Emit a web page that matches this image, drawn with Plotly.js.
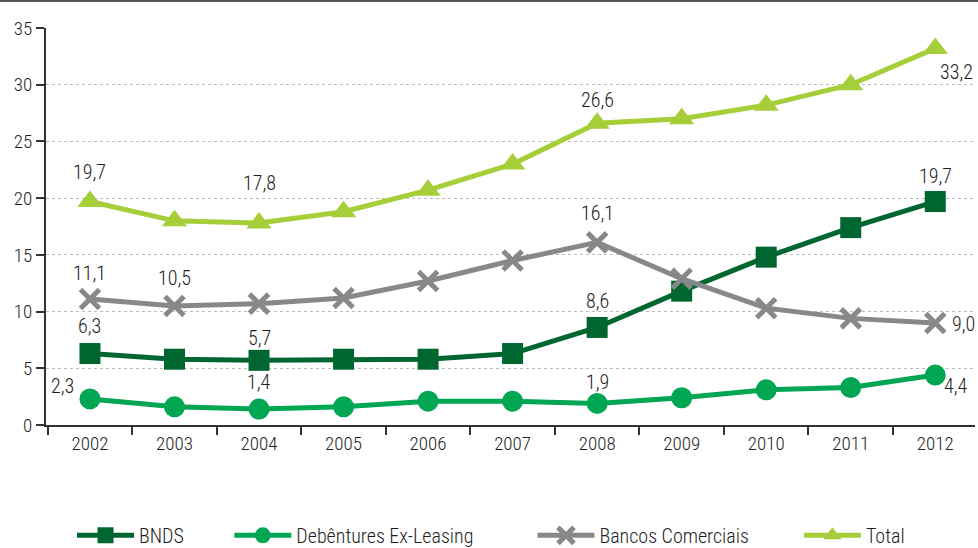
<!DOCTYPE html>
<html>
<head>
<meta charset="utf-8">
<script src="https://cdn.plot.ly/plotly-3.0.1.min.js"></script>
<style>html,body{margin:0;padding:0;background:#fff;}#chart{width:978px;height:548px;}</style>
</head>
<body>
<div id="chart"></div>
<script>
const years = ['2002','2003','2004','2005','2006','2007','2008','2009','2010','2011','2012'];
const bnds = [6.3, 5.8, 5.7, 5.8, 5.8, 6.3, 8.6, 11.8, 14.8, 17.4, 19.7];
const debentures = [2.3, 1.6, 1.4, 1.6, 2.1, 2.1, 1.9, 2.4, 3.1, 3.3, 4.4];
const bancos = [11.1, 10.5, 10.7, 11.2, 12.7, 14.5, 16.1, 12.9, 10.3, 9.4, 9.0];
const total = [19.7, 18.0, 17.8, 18.8, 20.7, 23.0, 26.6, 27.0, 28.2, 30.0, 33.2];
const seriesNames = ['BNDS', 'Debêntures Ex-Leasing', 'Bancos Comerciais', 'Total'];
const yTicks = [0, 5, 10, 15, 20, 25, 30, 35];

const FONT = '"Roboto Condensed", "Liberation Sans Narrow", Arial, sans-serif';
const W = 300;
const TXT = '#1e1e1e';
const cBNDS = '#00662f', cDeb = '#00a651', cBan = '#87888a', cTot = '#a6ce39';
const pad = n => '\u00a0'.repeat(n);

const traces = [
  {name:seriesNames[0] + pad(9), x:years, y:bnds, type:'scatter', mode:'lines+markers',
   line:{color:cBNDS, width:5}, marker:{symbol:'square', size:21, color:cBNDS}},
  {name:seriesNames[1] + pad(12), x:years, y:debentures, type:'scatter', mode:'lines+markers',
   line:{color:cDeb, width:5}, marker:{symbol:'circle', size:21, color:cDeb}},
  {name:seriesNames[2] + pad(10), x:years, y:bancos, type:'scatter', mode:'lines+markers',
   line:{color:cBan, width:5}, marker:{symbol:'x-thin', size:19, color:cBan, line:{color:cBan, width:5}}},
  {name:seriesNames[3], x:years, y:total, type:'scatter', mode:'lines+markers',
   line:{color:cTot, width:5}, marker:{symbol:'triangle-up', size:22, color:cTot}}
];

const fmt = v => v.toFixed(1).replace('.', ',');
// [series, index, xshift, yshift]
const labelSpec = [
  [total, 0, 0, 30], [total, 2, 0, 40], [total, 6, 0, 23], [total, 10, 21, -24],
  [bancos, 0, 0, 26], [bancos, 1, 0, 28], [bancos, 6, 0, 29], [bancos, 10, 28, -1],
  [bnds, 0, 0, 28], [bnds, 2, 0, 22], [bnds, 6, 0, 26], [bnds, 10, 0, 26],
  [debentures, 0, -27, 13], [debentures, 2, 0, 27], [debentures, 6, 0, 21], [debentures, 10, 21, -11]
];
const annotations = labelSpec.map(([s, i, xs, ys]) => ({
  x: i, y: s[i], xref:'x', yref:'y', text: fmt(s[i]), showarrow:false,
  xshift: xs, yshift: ys, font:{family:FONT, size:20, color:TXT, weight:W}
}));

const layout = {
  width:978, height:548,
  margin:{l:46, r:3, t:28, b:123, autoexpand:false},
  paper_bgcolor:'#fff', plot_bgcolor:'#fff',
  font:{family:FONT, size:18, color:TXT, weight:W},
  showlegend:true,
  legend:{orientation:'h', x:0.028, xanchor:'left', y:-0.278, yanchor:'middle',
          font:{family:FONT, size:20, color:TXT, weight:W}, itemwidth:57, tracegroupgap:0},
  xaxis:{type:'category', range:[-0.52, 10.47], showgrid:false, showline:true, linecolor:'#333', linewidth:2,
         ticks:'outside', tickson:'boundaries', ticklen:8, tickcolor:'#333', tickwidth:2,
         tickfont:{family:FONT, size:19, color:TXT, weight:W}, zeroline:false},
  yaxis:{range:[0,35], tickvals:yTicks, ticktext:yTicks.map(String), showgrid:true, gridcolor:'#bbbbbb',
         griddash:'dot', gridwidth:1, showline:true, linecolor:'#333', linewidth:2, ticks:'outside',
         ticklen:8, tickcolor:'#333', tickwidth:2, zeroline:false,
         tickfont:{family:FONT, size:19, color:TXT, weight:W}},
  annotations: annotations,
  shapes:[{type:'line', xref:'paper', yref:'paper', x0:-0.06, x1:1.01, y0:1.068, y1:1.068,
           line:{color:'#555', width:2}}]
};

Plotly.newPlot('chart', traces, layout, {displayModeBar:false, staticPlot:true});
</script>
</body>
</html>
